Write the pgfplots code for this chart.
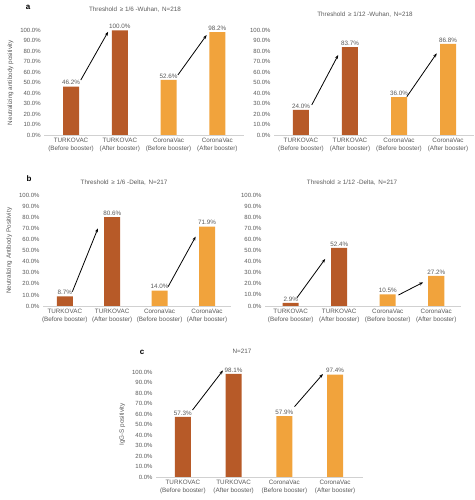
\documentclass[border=0pt]{standalone}
\usepackage{pgfplots}
\pgfplotsset{compat=1.18}
\usepackage{fontspec}
\setmainfont{Liberation Sans}
\usetikzlibrary{arrows.meta}
\definecolor{dk}{HTML}{B75A28}
\definecolor{lt}{HTML}{F1A33C}
\definecolor{txt}{HTML}{595959}
\tikzset{arr/.style={-{Stealth[length=4pt,width=3pt]}, line width=0.8pt, black}}
\pgfplotsset{
  panel/.style={
    scale only axis, anchor=south west,
    ymin=0, ymax=100, ytick={0,10,...,100},
    /pgf/number format/assume math mode=true,
    yticklabel={\pgfmathprintnumber[fixed,fixed zerofill,precision=1]{\tick}\%},
    xtick={0,1,2,3},
    xticklabels={{TURKOVAC\\(Before booster)},{TURKOVAC\\(After booster)},{CoronaVac\\(Before booster)},{CoronaVac\\(After booster)}},
    xticklabel style={align=center, font=\fontsize{6.3}{8}\selectfont, text=txt},
    yticklabel style={font=\fontsize{6}{7}\selectfont, text=txt},
    ylabel style={font=\fontsize{6.3}{7}\selectfont, text=txt},
    axis x line*=bottom, axis y line*=left,
    x axis line style={draw=black!18, -}, y axis line style={draw=none},
    major tick length=0pt,
    clip=false,
    nodes near coords={\pgfmathprintnumber[fixed,fixed zerofill,precision=1]{\pgfplotspointmeta}\%},
    nodes near coords style={font=\fontsize{6.3}{7}\selectfont, text=txt, inner sep=1.5pt},
    point meta=y,
  },
  bard/.style={ybar, bar width=16pt, bar shift=0pt, fill=dk, draw=none},
  barl/.style={ybar, bar width=16pt, bar shift=0pt, fill=lt, draw=none},
}
\begin{document}
\begin{tikzpicture}
\useasboundingbox (0,0) rectangle (474pt,500pt);
% panel a left
\begin{axis}[panel, at={(44.2pt,365pt)}, width=200pt, height=104.7pt, xmin=-0.55, xmax=3.55, ylabel={Neutralizing antibody positivity}]
\addplot[bard] coordinates {(0,46.2) (1,100.0)};
\addplot[barl] coordinates {(2,52.6) (3,98.2)};
\draw[arr] (axis cs:0.2,52.5) -- (axis cs:0.76,98.6);
\draw[arr] (axis cs:2.19,57.3) -- (axis cs:2.78,95.5);
\end{axis}
% panel a right
\begin{axis}[panel, at={(274pt,365pt)}, width=200pt, height=105pt, xmin=-0.55, xmax=3.53]
\addplot[bard] coordinates {(0,24.0) (1,83.7)};
\addplot[barl] coordinates {(2,36.0) (3,86.8)};
\draw[arr] (axis cs:0.22,28.6) -- (axis cs:0.76,76.2);
\draw[arr] (axis cs:2.16,36.5) -- (axis cs:2.77,77.8);
\end{axis}
% panel b left
\begin{axis}[panel, at={(43pt,194pt)}, width=187.7pt, height=110.4pt, xmin=-0.46, xmax=3.5, ylabel={Neutralizing Antibody Positivity}]
\addplot[bard] coordinates {(0,8.7) (1,80.6)};
\addplot[barl] coordinates {(2,14.0) (3,71.9)};
\draw[arr] (axis cs:0.16,13.0) -- (axis cs:0.70,70.4);
\draw[arr] (axis cs:2.18,17.5) -- (axis cs:2.76,62.8);
\end{axis}
% panel b right
\begin{axis}[panel, at={(265pt,194pt)}, width=195.5pt, height=110.7pt, xmin=-0.53, xmax=3.5]
\addplot[bard] coordinates {(0,2.9) (1,52.4)};
\addplot[barl] coordinates {(2,10.5) (3,27.2)};
\draw[arr] (axis cs:0.13,7.5) -- (axis cs:0.71,42.5);
\draw[arr] (axis cs:2.22,9.9) -- (axis cs:2.73,21.4);
\end{axis}
% panel c
\begin{axis}[panel, at={(156pt,23pt)}, width=207pt, height=105pt, xmin=-0.53, xmax=3.55, ylabel={IgG-S positivity}]
\addplot[bard] coordinates {(0,57.3) (1,98.1)};
\addplot[barl] coordinates {(2,57.9) (3,97.4)};
\draw[arr] (axis cs:0.19,63.8) -- (axis cs:0.79,101.5);
\draw[arr] (axis cs:2.20,67.0) -- (axis cs:2.76,98.1);
\end{axis}
% titles and panel letters
\begin{scope}[every node/.style={font=\fontsize{6.3}{7}\selectfont, text=txt}]
\node at (135pt,490pt) {Threshold \,≥ 1/6 -Wuhan, \,N=218};
\node at (365pt,485pt) {Threshold \,≥ 1/12 -Wuhan, \,N=218};
\node at (124pt,317pt) {Threshold \,≥ 1/6 -Delta, \,N=217};
\node at (352pt,317pt) {Threshold \,≥ 1/12 -Delta, \,N=217};
\node at (242pt,149pt) {N=217};
\end{scope}
\node[font=\bfseries\fontsize{8}{9}\selectfont] at (28pt,493pt) {a};
\node[font=\bfseries\fontsize{8}{9}\selectfont] at (29pt,321pt) {b};
\node[font=\bfseries\fontsize{8}{9}\selectfont] at (142pt,148pt) {c};
\end{tikzpicture}
\end{document}
